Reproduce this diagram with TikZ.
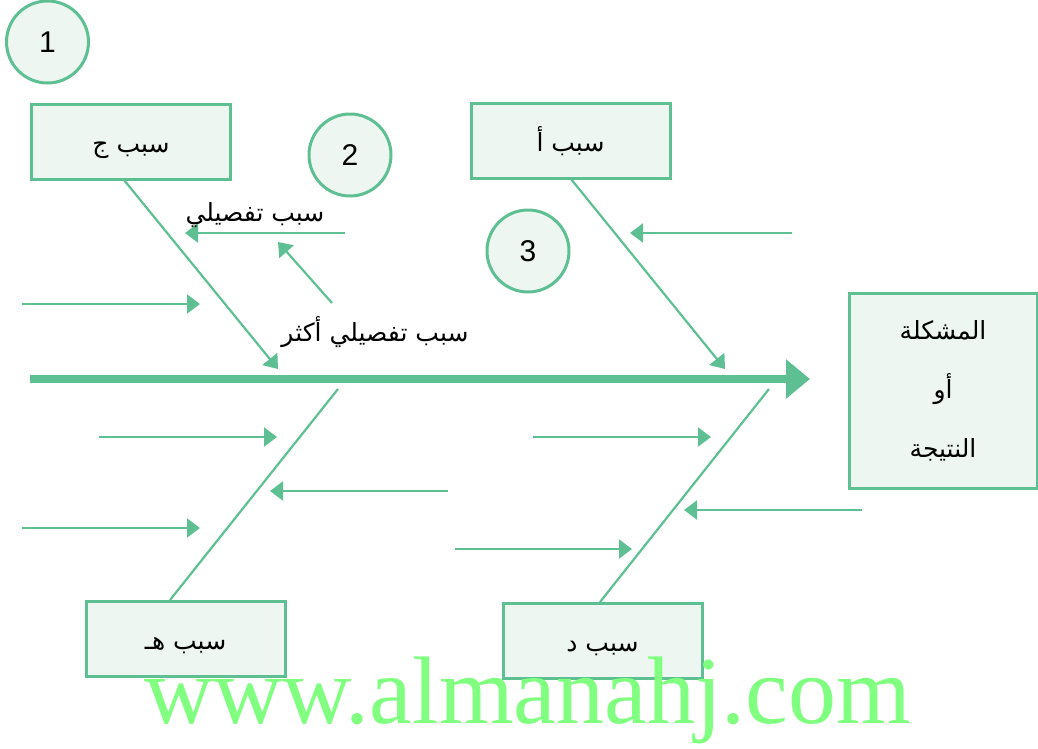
\documentclass[tikz,border=0pt]{standalone}
\usepackage{fontspec}
\setmainfont{Liberation Sans}
\newfontfamily\arabicfont[Script=Arabic]{DejaVu Sans}
\newfontfamily\wmfont{Liberation Serif}
\TeXXeTstate=1
\usetikzlibrary{arrows.meta}
\definecolor{fbgreen}{RGB}{94,192,146}
\definecolor{fbfill}{RGB}{237,246,240}
\definecolor{wmgreen}{RGB}{128,255,128}
\newcommand{\lowtxt}[1]{\smash{\raisebox{-11pt}{\beginR #1\endR}}}
\begin{document}
\begin{tikzpicture}[x=1pt,y=-1pt,
  causebox/.style={draw=fbgreen, line width=3pt, fill=fbfill, inner sep=0pt, minimum width=199pt, minimum height=75pt, font=\arabicfont\fontsize{25}{30}\selectfont},
  numcircle/.style={circle, draw=fbgreen, line width=3pt, fill=fbfill, minimum size=82pt, inner sep=0pt, font=\fontsize{30}{30}\selectfont},
  bone/.style={draw=fbgreen, line width=2.2pt},
  bonearrow/.style={draw=fbgreen, line width=2.2pt, -{Triangle[length=13pt,width=19pt]}},
  subarrow/.style={draw=fbgreen, line width=2.2pt, -{Triangle[length=13pt,width=19pt]}},
  artext/.style={font=\arabicfont\fontsize{25}{30}\selectfont, inner sep=0pt}
]
\useasboundingbox (0,0) rectangle (1038,748);
% circles
\node[numcircle] (c1) at (47.5,42) {1};
\node[numcircle] (c2) at (350,155) {2};
\node[numcircle] (c3) at (528,251) {3};
% cause boxes
\node[causebox] (bj) at (131,141.5) {\lowtxt{سبب ج}};
\node[causebox] (ba) at (570.5,140.5) {\lowtxt{سبب أ}};
\node[causebox] (bh) at (185.5,638.5) {\lowtxt{سبب هـ}};
\node[causebox] (bd) at (602.5,640.5) {\lowtxt{سبب د}};
\node[causebox, minimum width=188pt, minimum height=195pt, align=center, font=\arabicfont\fontsize{25}{59}\selectfont] (pr) at (943,391) {\beginR المشكلة\endR\\ \beginR أو\endR\\ \beginR النتيجة\endR};
% spine
\coordinate (sp0) at (30,379);
\coordinate (sp1) at (810,379);
\draw[fbgreen, line width=8pt, -{Triangle[length=24pt,width=38pt]}] (sp0) -- (sp1);
% bones
\coordinate (jS) at (124,180);
\coordinate (jE) at (278,369);
\coordinate (aS) at (571,179);
\coordinate (aE) at (725,369);
\coordinate (hS) at (170,600);
\coordinate (hE) at (338,389);
\coordinate (dS) at (600,602);
\coordinate (dE) at (769,389);
\draw[bonearrow] (jS) -- (jE);
\draw[bonearrow] (aS) -- (aE);
\draw[bone] (hS) -- (hE);
\draw[bone] (dS) -- (dE);
% sub-cause arrows
\coordinate (s1a) at (345,233); \coordinate (s1b) at (185,233);
\coordinate (s2a) at (332,303); \coordinate (s2b) at (278,242);
\coordinate (s3a) at (22,304);  \coordinate (s3b) at (200,304);
\coordinate (s4a) at (792,233); \coordinate (s4b) at (630,233);
\coordinate (s5a) at (99,437);  \coordinate (s5b) at (277,437);
\coordinate (s6a) at (448,491); \coordinate (s6b) at (270,491);
\coordinate (s7a) at (22,528);  \coordinate (s7b) at (200,528);
\coordinate (s8a) at (533,437); \coordinate (s8b) at (711,437);
\coordinate (s9a) at (862,510); \coordinate (s9b) at (684,510);
\coordinate (s10a) at (455,549); \coordinate (s10b) at (632,549);
\foreach \i in {1,...,10} {\draw[subarrow] (s\i a) -- (s\i b);}
% labels
\node[artext] (t1) at (255,215) {\beginR سبب تفصيلي\endR};
\node[artext] (t2) at (375,332) {\beginR سبب تفصيلي أكثر\endR};
% watermark
\node[anchor=base, text=wmgreen, font=\wmfont\fontsize{96}{96}\selectfont, inner sep=0pt] (wm) at (527.5,723) {www.almanahj.com};
\end{tikzpicture}
\end{document}
